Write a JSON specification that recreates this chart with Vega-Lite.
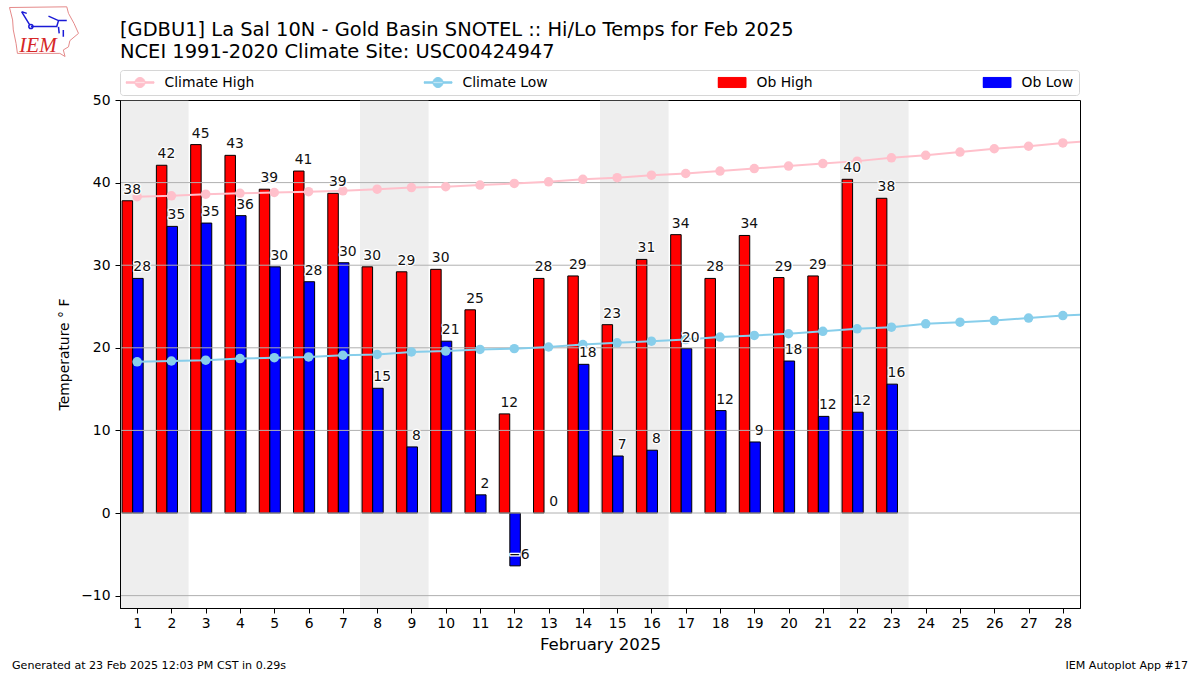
{"$schema":"https://vega.github.io/schema/vega-lite/v6.json","width":960,"height":508,"autosize":{"type":"none"},"padding":{"left":120,"top":100,"right":120,"bottom":67},"background":"white",
"title":{"text":["[GDBU1] La Sal 10N - Gold Basin SNOTEL :: Hi/Lo Temps for Feb 2025","NCEI 1991-2020 Climate Site: USC00424947"],"anchor":"start","frame":"group","font":"DejaVu Sans","fontSize":19.45,"fontWeight":"normal","lineHeight":22,"offset":-57.5,"color":"black"},
"config":{"font":"DejaVu Sans","view":{"stroke":"black","strokeWidth":1},"axisX":{"labelOverlap":false},"scale":{"continuousPadding":0}},
"datasets":{"obs":[
{"day":1,"series":"Ob High","value":37.8},{"day":2,"series":"Ob High","value":42.1},{"day":3,"series":"Ob High","value":44.6},{"day":4,"series":"Ob High","value":43.3},{"day":5,"series":"Ob High","value":39.2},{"day":6,"series":"Ob High","value":41.4},{"day":7,"series":"Ob High","value":38.7},{"day":8,"series":"Ob High","value":29.8},{"day":9,"series":"Ob High","value":29.2},{"day":10,"series":"Ob High","value":29.5},{"day":11,"series":"Ob High","value":24.6},{"day":12,"series":"Ob High","value":12},{"day":13,"series":"Ob High","value":28.4},{"day":14,"series":"Ob High","value":28.7},{"day":15,"series":"Ob High","value":22.8},{"day":16,"series":"Ob High","value":30.7},{"day":17,"series":"Ob High","value":33.7},{"day":18,"series":"Ob High","value":28.4},{"day":19,"series":"Ob High","value":33.6},{"day":20,"series":"Ob High","value":28.5},{"day":21,"series":"Ob High","value":28.7},{"day":22,"series":"Ob High","value":40.4},{"day":23,"series":"Ob High","value":38.1},
{"day":1,"series":"Ob Low","value":28.4},{"day":2,"series":"Ob Low","value":34.7},{"day":3,"series":"Ob Low","value":35.1},{"day":4,"series":"Ob Low","value":36.0},{"day":5,"series":"Ob Low","value":29.8},{"day":6,"series":"Ob Low","value":28.0},{"day":7,"series":"Ob Low","value":30.3},{"day":8,"series":"Ob Low","value":15.1},{"day":9,"series":"Ob Low","value":8.0},{"day":10,"series":"Ob Low","value":20.8},{"day":11,"series":"Ob Low","value":2.2},{"day":12,"series":"Ob Low","value":-6.4},{"day":13,"series":"Ob Low","value":0},{"day":14,"series":"Ob Low","value":18.0},{"day":15,"series":"Ob Low","value":6.9},{"day":16,"series":"Ob Low","value":7.6},{"day":17,"series":"Ob Low","value":19.9},{"day":18,"series":"Ob Low","value":12.4},{"day":19,"series":"Ob Low","value":8.6},{"day":20,"series":"Ob Low","value":18.4},{"day":21,"series":"Ob Low","value":11.7},{"day":22,"series":"Ob Low","value":12.2},{"day":23,"series":"Ob Low","value":15.6}],
"climate":[
{"day":1,"series":"Climate High","value":38.3},{"day":2,"series":"Climate High","value":38.4},{"day":3,"series":"Climate High","value":38.6},{"day":4,"series":"Climate High","value":38.7},{"day":5,"series":"Climate High","value":38.8},{"day":6,"series":"Climate High","value":38.9},{"day":7,"series":"Climate High","value":39.0},{"day":8,"series":"Climate High","value":39.2},{"day":9,"series":"Climate High","value":39.4},{"day":10,"series":"Climate High","value":39.5},{"day":11,"series":"Climate High","value":39.7},{"day":12,"series":"Climate High","value":39.9},{"day":13,"series":"Climate High","value":40.1},{"day":14,"series":"Climate High","value":40.4},{"day":15,"series":"Climate High","value":40.6},{"day":16,"series":"Climate High","value":40.9},{"day":17,"series":"Climate High","value":41.1},{"day":18,"series":"Climate High","value":41.4},{"day":19,"series":"Climate High","value":41.7},{"day":20,"series":"Climate High","value":42.0},{"day":21,"series":"Climate High","value":42.3},{"day":22,"series":"Climate High","value":42.6},{"day":23,"series":"Climate High","value":43.0},{"day":24,"series":"Climate High","value":43.3},{"day":25,"series":"Climate High","value":43.7},{"day":26,"series":"Climate High","value":44.1},{"day":27,"series":"Climate High","value":44.4},{"day":28,"series":"Climate High","value":44.8},{"day":29,"series":"Climate High","value":45.1},
{"day":1,"series":"Climate Low","value":18.3},{"day":2,"series":"Climate Low","value":18.4},{"day":3,"series":"Climate Low","value":18.5},{"day":4,"series":"Climate Low","value":18.7},{"day":5,"series":"Climate Low","value":18.8},{"day":6,"series":"Climate Low","value":18.9},{"day":7,"series":"Climate Low","value":19.1},{"day":8,"series":"Climate Low","value":19.2},{"day":9,"series":"Climate Low","value":19.5},{"day":10,"series":"Climate Low","value":19.6},{"day":11,"series":"Climate Low","value":19.8},{"day":12,"series":"Climate Low","value":19.9},{"day":13,"series":"Climate Low","value":20.1},{"day":14,"series":"Climate Low","value":20.4},{"day":15,"series":"Climate Low","value":20.6},{"day":16,"series":"Climate Low","value":20.8},{"day":17,"series":"Climate Low","value":21.0},{"day":18,"series":"Climate Low","value":21.3},{"day":19,"series":"Climate Low","value":21.5},{"day":20,"series":"Climate Low","value":21.7},{"day":21,"series":"Climate Low","value":22.0},{"day":22,"series":"Climate Low","value":22.3},{"day":23,"series":"Climate Low","value":22.5},{"day":24,"series":"Climate Low","value":22.9},{"day":25,"series":"Climate Low","value":23.1},{"day":26,"series":"Climate Low","value":23.3},{"day":27,"series":"Climate Low","value":23.6},{"day":28,"series":"Climate Low","value":23.9},{"day":29,"series":"Climate Low","value":24.1}],
"weekends":[{"start":0.5,"end":2.5},{"start":7.5,"end":9.5},{"start":14.5,"end":16.5},{"start":21.5,"end":23.5}],
"grid":[{"y":-10},{"y":0},{"y":10},{"y":20},{"y":30},{"y":40}]},
"layer":[
{"data":{"name":"weekends"},"mark":{"type":"rect","color":"#eeeeee"},"encoding":{"x":{"field":"start","type":"quantitative","scale":{"domain":[0.5,28.5],"nice":false,"zero":false,"padding":0},"axis":{"values":[1,2,3,4,5,6,7,8,9,10,11,12,13,14,15,16,17,18,19,20,21,22,23,24,25,26,27,28],"tickCount":28,"title":"February 2025","titleFontSize":16.6,"titleFontWeight":"normal","titleColor":"black","titlePadding":7,"labelFontSize":13.9,"labelColor":"black","labelPadding":3,"labelFlush":false,"labelOverlap":false,"labelSeparation":0,"domain":true,"domainColor":"black","zindex":1,"grid":false,"tickColor":"black","tickSize":5,"format":"d"}},"x2":{"field":"end"},
"y":{"datum":-11.5,"type":"quantitative","scale":{"domain":[-11.5,50],"nice":false,"zero":false},"axis":{"values":[-10,0,10,20,30,40,50],"title":"Temperature ° F","titleFontSize":13.9,"titleFontWeight":"normal","titleColor":"black","titlePadding":9,"labelFontSize":13.9,"labelColor":"black","labelPadding":5,"domain":true,"domainColor":"black","zindex":1,"grid":false,"tickColor":"black","tickSize":5}},"y2":{"datum":49.92}}},
{"data":{"name":"obs"},"transform":[{"filter":"datum.series==='Ob High'"}],"mark":{"type":"bar","orient":"vertical","size":10.5,"xOffset":-9.8,"stroke":"black","strokeWidth":1,"clip":true},"encoding":{"x":{"field":"day","type":"quantitative"},"y":{"field":"value","type":"quantitative","stack":null},"color":{"field":"series","type":"nominal","scale":{"domain":["Climate High","Climate Low","Ob High","Ob Low"],"range":["#ffc0cb","#87ceeb","#ff0000","#0000ff"]},"legend":{"orient":"none","legendX":0,"legendY":-30,"direction":"horizontal","columns":4,"columnPadding":169,"title":null,"labelFontSize":13.9,"labelColor":"black","labelOffset":10,"symbolSize":784,"clipHeight":14,"padding":5.5,"fillColor":"white","strokeColor":"#d6d6d6","cornerRadius":3,"encoding":{"symbols":{"shape":{"condition":{"test":"test(/^Ob/,datum.value)","value":"M-1,-0.36H1V0.36H-1Z"},"value":"M-1,-0.05H1V0.05H-1ZM-0.36,0A0.36,0.36,0,1,0,0.36,0A0.36,0.36,0,1,0,-0.36,0Z"},"stroke":{"condition":[{"test":"test(/^Ob/,datum.value)","value":"black"},{"test":"datum.value==='Climate High'","value":"#ffc0cb"}],"value":"#87ceeb"},"strokeWidth":{"value":1}}}}}}},
{"data":{"name":"obs"},"transform":[{"filter":"datum.series==='Ob Low'&&datum.value!==0"}],"mark":{"type":"bar","orient":"vertical","size":10.5,"xOffset":0.8,"stroke":"black","strokeWidth":1,"clip":true},"encoding":{"x":{"field":"day","type":"quantitative"},"y":{"field":"value","type":"quantitative","stack":null},"color":{"field":"series","type":"nominal"}}},
{"data":{"name":"grid"},"mark":{"type":"rule","color":"#b0b0b0","strokeWidth":1},"encoding":{"y":{"field":"y","type":"quantitative"}}},
{"data":{"name":"climate"},"mark":{"type":"line","strokeWidth":2,"clip":true},"encoding":{"x":{"field":"day","type":"quantitative"},"y":{"field":"value","type":"quantitative"},"color":{"field":"series","type":"nominal"},"detail":{"field":"series"},"order":{"field":"day"}}},
{"data":{"name":"climate"},"mark":{"type":"circle","size":90,"opacity":1,"clip":true},"encoding":{"x":{"field":"day","type":"quantitative"},"y":{"field":"value","type":"quantitative"},"color":{"field":"series","type":"nominal"}}},
{"data":{"name":"obs"},"transform":[{"filter":"datum.series==='Ob High'"}],"mark":{"type":"text","fontSize":13.9,"dx":-5,"dy":-11,"baseline":"middle","stroke":"white","strokeWidth":2.5,"strokeJoin":"round","fill":"white"},"encoding":{"x":{"field":"day","type":"quantitative"},"y":{"field":"value","type":"quantitative"},"text":{"field":"value","type":"quantitative","format":".0f"}}},
{"data":{"name":"obs"},"transform":[{"filter":"datum.series==='Ob Low'"}],"mark":{"type":"text","fontSize":13.9,"dx":5,"dy":-11,"baseline":"middle","stroke":"white","strokeWidth":2.5,"strokeJoin":"round","fill":"white"},"encoding":{"x":{"field":"day","type":"quantitative"},"y":{"field":"value","type":"quantitative"},"text":{"field":"value","type":"quantitative","format":".0f"}}},
{"data":{"name":"obs"},"transform":[{"filter":"datum.series==='Ob High'"}],"mark":{"type":"text","fontSize":13.9,"dx":-5,"dy":-11,"baseline":"middle","color":"#111111"},"encoding":{"x":{"field":"day","type":"quantitative"},"y":{"field":"value","type":"quantitative"},"text":{"field":"value","type":"quantitative","format":".0f"}}},
{"data":{"name":"obs"},"transform":[{"filter":"datum.series==='Ob Low'"}],"mark":{"type":"text","fontSize":13.9,"dx":5,"dy":-11,"baseline":"middle","color":"#111111"},"encoding":{"x":{"field":"day","type":"quantitative"},"y":{"field":"value","type":"quantitative"},"text":{"field":"value","type":"quantitative","format":".0f"}}},
{"data":{"values":[{"note":"Generated at 23 Feb 2025 12:03 PM CST in 0.29s"}]},"mark":{"type":"text","align":"left","baseline":"middle","fontSize":11.1,"color":"black","x":-108,"y":566},"encoding":{"text":{"field":"note"}}},
{"data":{"values":[{"note":"IEM Autoplot App #17"}]},"mark":{"type":"text","align":"right","baseline":"middle","fontSize":11.1,"color":"black","x":1068,"y":566},"encoding":{"text":{"field":"note"}}},
{"data":{"values":[{"note":"IEM"}]},"mark":{"type":"text","align":"center","baseline":"alphabetic","font":"Liberation Serif","fontStyle":"italic","fontSize":21,"color":"#d62728","x":-82,"y":-48},"encoding":{"text":{"field":"note"}}},
{"data":{"values":[{"note":"outline"}]},"mark":{"type":"point","shape":"M-1,-0.71L0.66,-0.73L0.71,-0.54L0.87,-0.25L1,0.04L0.75,0.25L0.71,0.43L0.56,0.52L0.61,0.71L0.46,0.62L-0.77,0.62L-0.81,0.33L-0.89,-0.06L-0.91,-0.35Z","size":4761,"stroke":"#e58a8a","strokeWidth":1,"fill":"transparent","opacity":1,"x":-76,"y":-68},"encoding":{}},
{"data":{"values":[{"note":"barb"}]},"mark":{"type":"point","shape":"M-0.38,-0.16L0.37,-0.16L0.42,-0.33M0.13,-0.46L0.42,-0.33L0.66,-0.33M-0.65,-0.59L-0.41,-0.2M-0.65,-0.59L-0.5,-0.54M0.42,-0.15L0.44,0.04M0.56,-0.06L0.56,0.14M-0.44,-0.16A0.06,0.06,0,1,0,-0.32,-0.16A0.06,0.06,0,1,0,-0.44,-0.16","size":4761,"stroke":"#1a1ad6","strokeWidth":1.5,"fill":"transparent","opacity":1,"x":-76,"y":-68},"encoding":{}}
]}
